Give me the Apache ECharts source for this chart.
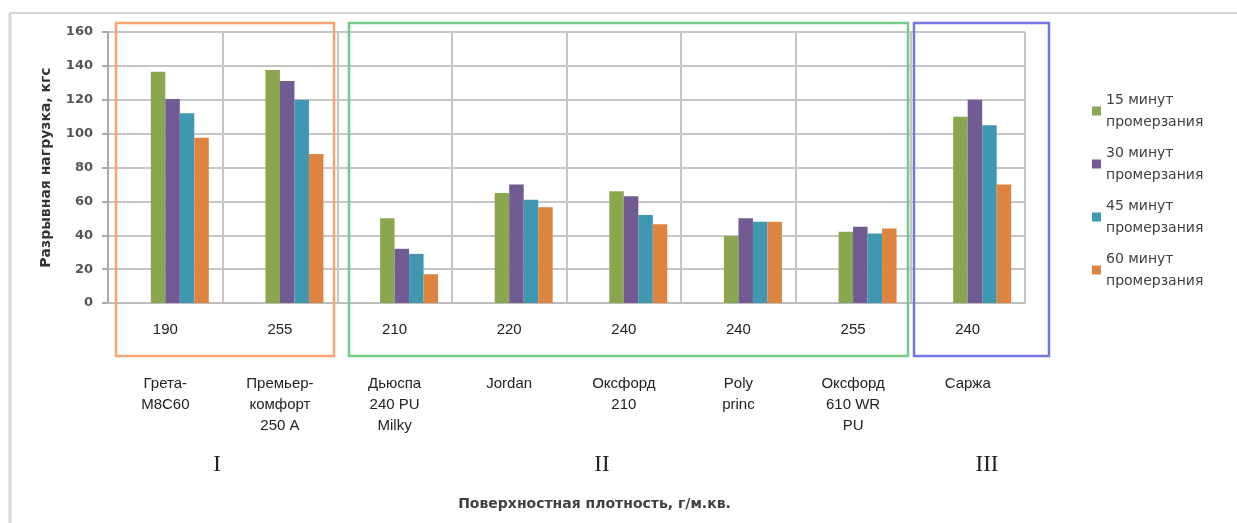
<!DOCTYPE html>
<html><head><meta charset="utf-8">
<script src="https://cdn.jsdelivr.net/npm/echarts@6/dist/echarts.min.js"></script>
<style>html,body{margin:0;padding:0;background:#fff}#c{width:1237px;height:523px}</style>
</head><body><div id="c"></div>
<script>
const categories = ['Грета-\nM8C60', 'Премьер-\nкомфорт\n250 A', 'Дьюспа\n240 PU\nMilky', 'Jordan', 'Оксфорд\n210', 'Poly\nprinc', 'Оксфорд\n610 WR\nPU', 'Саржа'];
const densities = ['190', '255', '210', '220', '240', '240', '255', '240'];
const seriesNames = ['15 минут\nпромерзания', '30 минут\nпромерзания', '45 минут\nпромерзания', '60 минут\nпромерзания'];
const s15 = [136.5, 137.5, 50, 65, 66, 39.5, 42, 110];
const s30 = [120.5, 131, 32, 70, 63, 50, 45, 120];
const s45 = [112, 120, 29, 61, 52, 48, 41, 105];
const s60 = [97.5, 88, 17, 56.5, 46.5, 48, 44, 70];
const yTicks = [0, 20, 40, 60, 80, 100, 120, 140, 160];
const groupLabels = ['I', 'II', 'III'];

const colors = ['#8aa64e', '#725a92', '#3f97b0', '#dd8540'];
const valueLists = [s15, s30, s45, s60];

const chart = echarts.init(document.getElementById('c'), null, {renderer: 'canvas'});
const gridLeft = 108, gridRight = 212, gridTop = 32, gridBottom = 220;

const series = [{
  name: '_spacer', type: 'bar', data: [], barWidth: 29, barGap: '0%', silent: true,
  itemStyle: {color: 'transparent'}
}].concat(valueLists.map((vals, i) => ({
  name: seriesNames[i], type: 'bar', data: vals, barWidth: 14.5, barGap: '0%',
  itemStyle: {color: colors[i]}
})));

chart.setOption({
  animation: false,
  backgroundColor: '#fff',
  textStyle: {fontFamily: 'Liberation Sans, Arial, sans-serif'},
  grid: {left: gridLeft, right: gridRight, top: gridTop, bottom: gridBottom, containLabel: false},
  legend: {
    data: seriesNames, orient: 'vertical', left: 1087, top: 84,
    icon: 'rect', itemWidth: 9, itemHeight: 9, itemGap: 9,
    textStyle: {fontSize: 14, lineHeight: 22, color: '#404040', fontFamily: 'DejaVu Sans, sans-serif'}
  },
  xAxis: [{
    type: 'category', data: categories, position: 'bottom',
    axisLine: {show: true, lineStyle: {color: '#bdbdbd', width: 2}},
    axisTick: {show: false},
    splitLine: {show: true, lineStyle: {color: '#c6c6c6', width: 2}},
    axisLabel: {formatter: (v, i) => densities[i], margin: 19, fontSize: 15, color: '#222'},
    name: 'Поверхностная плотность, г/м.кв.', nameLocation: 'middle', nameGap: 194,
    nameTextStyle: {fontSize: 14, fontWeight: 'bold', color: '#404040', fontFamily: 'DejaVu Sans, sans-serif', padding: [0, 0, 0, 56]}
  }, {
    type: 'category', data: categories, position: 'bottom', gridIndex: 0,
    axisLine: {show: false}, axisTick: {show: false}, splitLine: {show: false},
    axisLabel: {margin: 70, fontSize: 15, lineHeight: 21, color: '#222', interval: 0}
  }],
  yAxis: {
    type: 'value', min: yTicks[0], max: yTicks[yTicks.length - 1], interval: yTicks[1] - yTicks[0],
    axisLine: {show: true, lineStyle: {color: '#a9a9a9', width: 2}},
    axisTick: {show: true, length: 6, lineStyle: {color: '#a9a9a9', width: 2}},
    splitLine: {show: true, lineStyle: {color: '#c6c6c6', width: 2}},
    axisLabel: {fontSize: 13, fontWeight: 'bold', color: '#555', margin: 15, fontFamily: 'DejaVu Sans, sans-serif'},
    name: 'Разрывная нагрузка, кгс', nameLocation: 'middle', nameGap: 55, nameRotate: 90,
    nameTextStyle: {fontSize: 14, fontWeight: 'bold', color: '#333', fontFamily: 'DejaVu Sans, sans-serif'}
  },
  series: series,
  graphic: [
    {type: 'line', shape: {x1: 10, y1: 13, x2: 1237, y2: 13}, style: {stroke: '#d6d6d6', lineWidth: 2}},
    {type: 'line', shape: {x1: 10, y1: 13, x2: 10, y2: 523}, style: {stroke: '#d6d6d6', lineWidth: 3}},
    {type: 'rect', shape: {x: 116, y: 23, width: 218, height: 333}, style: {fill: 'none', stroke: '#f7a56e', lineWidth: 2.5}, z: 10},
    {type: 'rect', shape: {x: 349, y: 23, width: 559, height: 333}, style: {fill: 'none', stroke: '#72cc84', lineWidth: 2.5}, z: 10},
    {type: 'rect', shape: {x: 914, y: 23, width: 135, height: 333}, style: {fill: 'none', stroke: '#7474e2', lineWidth: 2.5}, z: 10},
    {type: 'text', x: 217, y: 465, style: {text: groupLabels[0], font: '23px "Liberation Serif", serif', fill: '#222', align: 'center', verticalAlign: 'middle'}},
    {type: 'text', x: 602, y: 465, style: {text: groupLabels[1], font: '23px "Liberation Serif", serif', fill: '#222', align: 'center', verticalAlign: 'middle'}},
    {type: 'text', x: 987, y: 465, style: {text: groupLabels[2], font: '23px "Liberation Serif", serif', fill: '#222', align: 'center', verticalAlign: 'middle'}}
  ]
});
</script></body></html>
